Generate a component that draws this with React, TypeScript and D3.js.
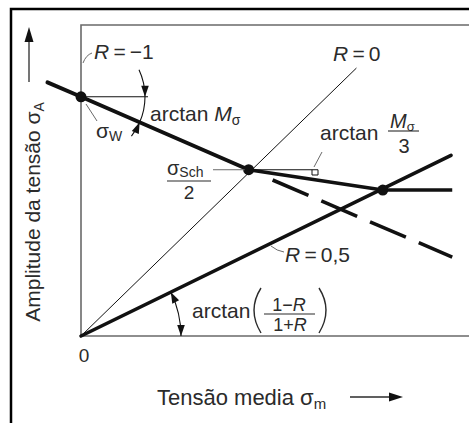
import React from "react";
import * as d3 from "d3";

// Haigh-type fatigue diagram: stress amplitude vs. mean stress
type P = { m: number; a: number };

const haighSteep: P[] = [
  { m: -14, a: 106 },
  { m: 0, a: 100 },
  { m: 70, a: 69.5 },
];
const haighFlat: P[] = [
  { m: 70, a: 69.5 },
  { m: 126, a: 61 },
];
const haighCap: P[] = [
  { m: 126, a: 61 },
  { m: 155, a: 61 },
];
const steepExtension: P[] = [
  { m: 80, a: 65.2 },
  { m: 155, a: 33 },
];
const ratioZero: P[] = [
  { m: 0, a: 0 },
  { m: 115, a: 112 },
];
const ratioHalf: P[] = [
  { m: 0, a: 0 },
  { m: 154.5, a: 75.5 },
];
const keyPoints: P[] = [
  { m: 0, a: 100 },
  { m: 70, a: 69.5 },
  { m: 126, a: 61 },
];

const W = 469;
const H = 423;
const FONT = "'Liberation Sans', Arial, Helvetica, sans-serif";
const INK = "#111";
const TXT = "#2b2b2b";
const GREY = "#6a6a6a";

const x = d3.scaleLinear().domain([0, 162]).range([81, 469]);
const y = d3.scaleLinear().domain([0, 130]).range([336, 25]);
const line = d3
  .line<P>()
  .x((d) => x(d.m))
  .y((d) => y(d.a));

const rad = (deg: number) => (deg * Math.PI) / 180;
const onCircle = (cx: number, cy: number, r: number, t: number) => [
  cx + r * Math.cos(t),
  cy + r * Math.sin(t),
];
function arcPath(cx: number, cy: number, r: number, t0: number, t1: number) {
  const [x0, y0] = onCircle(cx, cy, r, t0);
  const [x1, y1] = onCircle(cx, cy, r, t1);
  const sweep = t1 > t0 ? 1 : 0;
  return `M${x0},${y0}A${r},${r} 0 0 ${sweep} ${x1},${y1}`;
}
// filled arrowhead with its tip on the circle, pointing along the arc
function arcHead(cx: number, cy: number, r: number, t: number, increasing: boolean, L = 11, w = 3.8) {
  const [tx, ty] = onCircle(cx, cy, r, t);
  const s = increasing ? 1 : -1;
  const dx = -Math.sin(t) * s;
  const dy = Math.cos(t) * s;
  const bx = tx - L * dx;
  const by = ty - L * dy;
  const nx = -dy;
  const ny = dx;
  return `M${tx},${ty}L${bx + w * nx},${by + w * ny}L${bx - w * nx},${by - w * ny}Z`;
}

export default function App() {
  const ox = x(0);
  const oy = y(0);
  // angle of the steep Haigh segment at the fatigue-limit point
  const cW = [x(0), y(100)];
  const tSteep = Math.atan2(y(69.5) - y(100), x(70) - x(0));
  const rW = 64;
  // angle of the R = 0.5 ray
  const last = ratioHalf[ratioHalf.length - 1];
  const tHalf = Math.atan2(y(last.a) - oy, x(last.m) - ox);
  const rR = 100;

  const knee = keyPoints[1];

  return (
    <svg width={W} height={H} style={{ display: "block", position: "absolute", left: 0, top: 0, background: "#fff" }}>
      <rect x={0} y={0} width={W} height={H} fill="#fff" />
      {/* outer frame */}
      <path d={`M11,${H}L11,9L${W},9`} fill="none" stroke="#000" strokeWidth={2.5} />

      {/* plot frame */}
      <path d={`M${W},25L${ox},25L${ox},${oy}L${W},${oy}`} fill="none" stroke={GREY} strokeWidth={1.6} />

      {/* axis arrows */}
      <line x1={29} y1={82} x2={29} y2={40} stroke={TXT} strokeWidth={1.3} />
      <path d="M29,27L24.5,42L33.5,42Z" fill={INK} />
      <line x1={350} y1={397} x2={390} y2={397} stroke={TXT} strokeWidth={1.3} />
      <path d="M403,397L389,392.5L389,401.5Z" fill={INK} />

      {/* axis titles */}
      <text
        transform={`translate(40,212) rotate(-90)`}
        textAnchor="middle"
        fontFamily={FONT}
        fontSize={21}
        fill={TXT}
      >
        Amplitude da tensão σ<tspan fontSize={14} dy={4}>A</tspan>
      </text>
      <text x={157} y={405} fontFamily={FONT} fontSize={22} fill={TXT}>
        Tensão media σ<tspan fontSize={15} dy={4}>m</tspan>
      </text>
      <text x={84} y={362} textAnchor="middle" fontFamily={FONT} fontSize={19} fill={TXT}>
        0
      </text>

      {/* R = 0 ray */}
      <path d={line(ratioZero) ?? ""} fill="none" stroke={INK} strokeWidth={1} />
      {/* R = 0.5 ray */}
      <path d={line(ratioHalf) ?? ""} fill="none" stroke={INK} strokeWidth={3.6} strokeLinecap="round" />

      {/* Haigh line */}
      <path d={line(haighSteep) ?? ""} fill="none" stroke={INK} strokeWidth={4} strokeLinecap="round" />
      <path d={line(haighFlat) ?? ""} fill="none" stroke={INK} strokeWidth={3.6} />
      <path d={line(haighCap) ?? ""} fill="none" stroke={INK} strokeWidth={3.6} />
      <path
        d={line(steepExtension) ?? ""}
        fill="none"
        stroke={INK}
        strokeWidth={3.6}
        strokeDasharray="39 14"
      />

      {keyPoints.map((p, i) => (
        <circle key={i} cx={x(p.m)} cy={y(p.a)} r={5.5} fill={INK} />
      ))}

      {/* slope of the steep segment: arctan M */}
      <line x1={x(0)} y1={y(100)} x2={148} y2={y(100)} stroke={INK} strokeWidth={1.1} />
      <path d={arcPath(cW[0], cW[1], rW, rad(-25), 0)} fill="none" stroke={INK} strokeWidth={1.1} />
      <path d={arcPath(cW[0], cW[1], rW, 0, tSteep)} fill="none" stroke={INK} strokeWidth={1.1} />
      <path d={arcPath(cW[0], cW[1], rW, rad(38), tSteep)} fill="none" stroke={INK} strokeWidth={1.1} />
      <path d={arcHead(cW[0], cW[1], rW, 0, true)} fill={INK} />
      <path d={arcHead(cW[0], cW[1], rW, tSteep, false)} fill={INK} />
      <text x={150} y={121} fontFamily={FONT} fontSize={21} fill={TXT}>
        arctan <tspan fontStyle="italic">M</tspan>
        <tspan fontSize={14} dy={4}>σ</tspan>
      </text>

      {/* fatigue limit σW */}
      <line x1={86} y1={104} x2={97} y2={121} stroke={GREY} strokeWidth={1} />
      <text x={96} y={138} fontFamily={FONT} fontSize={21} fill={TXT}>
        σ<tspan fontSize={14} dy={3}>W</tspan>
      </text>

      {/* R = -1 */}
      <path d="M83,63Q86,55 92,53" fill="none" stroke={GREY} strokeWidth={1} />
      <text x={94} y={59} fontFamily={FONT} fontSize={21} fill={TXT}>
        <tspan fontStyle="italic">R</tspan>
        {"\u2009=\u2009−1"}
      </text>

      {/* R = 0 */}
      <text x={333} y={61} fontFamily={FONT} fontSize={21} fill={TXT}>
        <tspan fontStyle="italic">R</tspan>
        {"\u2009=\u20090"}
      </text>

      {/* σSch / 2 at the knee */}
      <line x1={213} y1={y(knee.a)} x2={x(knee.m) - 4} y2={y(knee.a)} stroke={GREY} strokeWidth={1} />
      <text x={167} y={175} fontFamily={FONT} fontSize={20} fill={TXT}>
        σ<tspan fontSize={14} dy={2}>Sch</tspan>
      </text>
      <line x1={167} y1={181} x2={211} y2={181} stroke={TXT} strokeWidth={1.1} />
      <text x={189} y={199} textAnchor="middle" fontFamily={FONT} fontSize={19} fill={TXT}>
        2
      </text>

      {/* slope of the flat segment: arctan M/3 */}
      <line x1={x(knee.m)} y1={y(knee.a)} x2={318} y2={y(knee.a)} stroke={INK} strokeWidth={1.1} />
      <path d={`M312,${y(knee.a)}L312,175L318,175L318,${y(knee.a)}`} fill="none" stroke={INK} strokeWidth={1} />
      <line x1={322} y1={152} x2={314} y2={167} stroke={GREY} strokeWidth={1} />
      <text x={320} y={140} fontFamily={FONT} fontSize={21} fill={TXT}>
        arctan
      </text>
      <text x={390} y={128} fontFamily={FONT} fontSize={20} fill={TXT}>
        <tspan fontStyle="italic">M</tspan>
        <tspan fontSize={13} dy={3}>σ</tspan>
      </text>
      <line x1={388} y1={131} x2={419} y2={131} stroke={TXT} strokeWidth={1.1} />
      <text x={404} y={153} textAnchor="middle" fontFamily={FONT} fontSize={20} fill={TXT}>
        3
      </text>

      {/* R = 0.5 */}
      <path d="M271,246Q277,251 284,252" fill="none" stroke={GREY} strokeWidth={1} />
      <text x={285} y={262} fontFamily={FONT} fontSize={21} fill={TXT}>
        <tspan fontStyle="italic">R</tspan>
        {"\u2009=\u20090,5"}
      </text>

      {/* angle of the R ray: arctan((1-R)/(1+R)) */}
      <path d={arcPath(ox, oy, rR, tHalf, 0)} fill="none" stroke={INK} strokeWidth={1.1} />
      <path d={arcHead(ox, oy, rR, 0, true)} fill={INK} />
      <path d={arcHead(ox, oy, rR, tHalf, false)} fill={INK} />
      <text x={192} y={318} fontFamily={FONT} fontSize={21} fill={TXT}>
        arctan
      </text>
      <path d="M261,288Q247,310 261,333" fill="none" stroke={TXT} strokeWidth={1.4} />
      <path d="M319,288Q333,310 319,333" fill="none" stroke={TXT} strokeWidth={1.4} />
      <text x={289} y={311} textAnchor="middle" fontFamily={FONT} fontSize={18} fill={TXT}>
        1−<tspan fontStyle="italic">R</tspan>
      </text>
      <line x1={264} y1={314} x2={315} y2={314} stroke={TXT} strokeWidth={1.1} />
      <text x={290} y={331} textAnchor="middle" fontFamily={FONT} fontSize={18} fill={TXT}>
        1+<tspan fontStyle="italic">R</tspan>
      </text>
    </svg>
  );
}
